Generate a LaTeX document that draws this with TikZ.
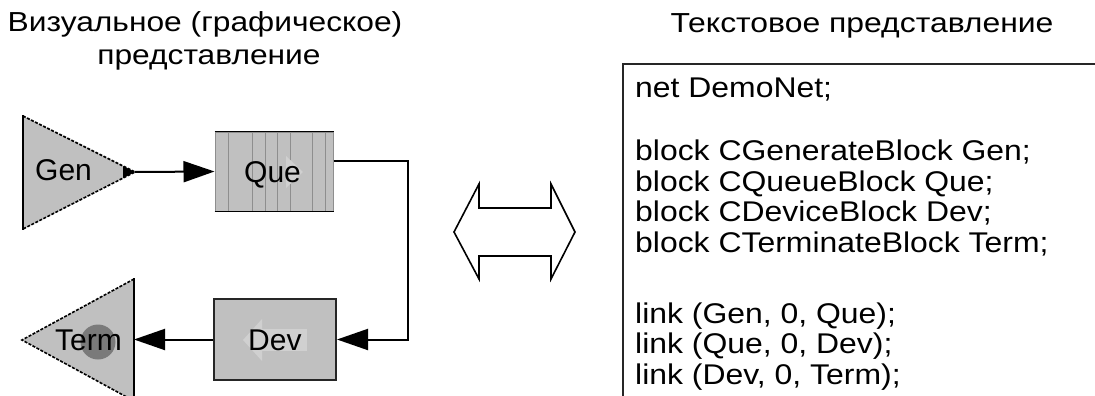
\documentclass[tikz,border=0pt]{standalone}
\usepackage{fontspec}
\setmainfont{Liberation Sans}
\usetikzlibrary{arrows.meta}

\definecolor{blockgray}{HTML}{C0C0C0}
\definecolor{slatgray}{HTML}{8E8E8E}
\definecolor{icongray}{HTML}{D0D0D0}
\definecolor{termdot}{HTML}{7A7A7A}

\newcommand{\widetext}[2]{\scalebox{#1}[1]{#2}}

\tikzset{
  solidedge/.style={draw=black, line width=1.8pt},
  roughedge/.style={draw=black, line width=1.6pt, dash pattern=on 3pt off 1.5pt},
  flow/.style={draw=black, line width=2pt, -{Triangle[length=31pt,width=21pt]}},
  blocklabel/.style={font=\fontsize{30}{36}\selectfont, inner sep=0pt, anchor=base west},
  codeline/.style={font=\fontsize{28.5}{30}\selectfont, inner sep=0pt, anchor=base west},
  heading/.style={font=\fontsize{27.5}{30}\selectfont, inner sep=0pt, anchor=base},
  queuebox/.style={fill=blockgray, draw=slatgray, line width=1pt, inner sep=0pt,
                   minimum width=118pt, minimum height=79pt},
  devicebox/.style={fill=blockgray, draw=black!85, line width=2pt, inner sep=0pt,
                    minimum width=122pt, minimum height=81pt},
}

\begin{document}
\begin{tikzpicture}[x=1pt, y=-1pt]
\useasboundingbox (0,0) rectangle (1095,396);

% headings
\node[heading] (h1) at (205,32) {\widetext{1.155}{Визуальное (графическое)}};
\node[heading] (h2) at (209,65) {\widetext{1.155}{представление}};
\node[heading] (h3) at (862,33) {\widetext{1.16}{Текстовое представление}};

% generator block
\fill[blockgray] (23,116) -- (135,172) -- (23,229) -- cycle;
\draw[roughedge] (23,116) -- (135,172) -- (23,229);
\draw[solidedge] (23,115) -- (23,230);
\fill[black] (123,166) -- (135,172) -- (123,178) -- cycle;
\coordinate (gen-tip) at (135,172);
\node[blocklabel] (gen) at (35,180) {Gen};

% queue block
\node[queuebox] (Que) at (274,171.5) {};
\foreach \sx in {228,252,265,277,290,312,325}
  \draw[slatgray, line width=1pt] (\sx,132) -- (\sx,211);
\draw[black, line width=1.6pt] (Que.north west) -- (Que.north east);
\draw[black, line width=1.6pt] (Que.south west) -- (Que.south east);
\fill[icongray] (286,156) -- (303,172) -- (286,188) -- cycle;
\node[blocklabel] (que) at (244,182) {Que};

% device block
\node[devicebox] (Dev) at (275,339.5) {};
\fill[icongray] (262,329) rectangle (307,351);
\fill[icongray] (243,340) -- (262,319) -- (262,361) -- cycle;
\node[blocklabel] (dev) at (248,350) {Dev};

% terminator block
\fill[blockgray] (134,279) -- (22,340) -- (134,401) -- cycle;
\draw[roughedge] (134,279) -- (22,340) -- (134,401);
\draw[solidedge] (134,278) -- (134,402);
\fill[termdot] (98,342) circle (17.5);
\coordinate (term-in) at (134,339.5);
\node[blocklabel] (term) at (55,350) {Term};

% connections
\draw[flow] (gen-tip) -- (Que.west);
\draw[flow] ([yshift=10.5pt]Que.east) -- ++(74,0) |- (Dev.east);
\draw[flow] (Dev.west) -- (term-in);

% two-way correspondence arrow
\draw[black, line width=1.6pt, line join=miter]
  (454,232) -- (479,184) -- (479,208) -- (551,208) -- (551,184) -- (575,232)
  -- (551,279) -- (551,256) -- (479,256) -- (479,279) -- cycle;

% textual description frame
\draw[black!85, line width=2pt] (1100,64) -- (623,64) -- (623,402);
\node[codeline] (c1) at (635,97)  {\widetext{1.12}{net DemoNet;}};
\node[codeline] (c2) at (635,160) {\widetext{1.12}{block CGenerateBlock Gen;}};
\node[codeline] (c3) at (635,191) {\widetext{1.12}{block CQueueBlock Que;}};
\node[codeline] (c4) at (635,221) {\widetext{1.12}{block CDeviceBlock Dev;}};
\node[codeline] (c5) at (635,252) {\widetext{1.12}{block CTerminateBlock Term;}};
\node[codeline] (c6) at (635,323) {\widetext{1.12}{link (Gen, 0, Que);}};
\node[codeline] (c7) at (635,353) {\widetext{1.12}{link (Que, 0, Dev);}};
\node[codeline] (c8) at (635,384) {\widetext{1.12}{link (Dev, 0, Term);}};
\end{tikzpicture}
\end{document}
